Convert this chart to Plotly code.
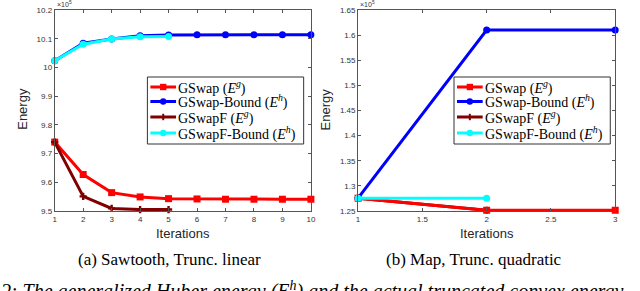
import plotly.graph_objects as go

# ---- data (energy values in units of 1e5) ----
iters_a = [1, 2, 3, 4, 5, 6, 7, 8, 9, 10]
gswap_a = [9.740, 9.627, 9.564, 9.549, 9.543, 9.542, 9.541, 9.541, 9.541, 9.541]
gswap_bound_a = [10.023, 10.084, 10.099, 10.110, 10.113, 10.114, 10.114, 10.114, 10.114, 10.114]
iters_a_f = [1, 2, 3, 4, 5]
gswapf_a = [9.740, 9.551, 9.509, 9.505, 9.505]
gswapf_bound_a = [10.023, 10.081, 10.099, 10.107, 10.108]

iters_b = [1, 2, 3]
gswap_b = [1.2755, 1.2515, 1.2515]
gswap_bound_b = [1.2755, 1.610, 1.610]
iters_b_f = [1, 2]
gswapf_b = [1.2755, 1.2515]
gswapf_bound_b = [1.2755, 1.2755]

yticks_a = [9.5, 9.6, 9.7, 9.8, 9.9, 10.0, 10.1, 10.2]
yticklabels_a = ["9.5", "9.6", "9.7", "9.8", "9.9", "10", "10.1", "10.2"]
xticks_a = [1, 2, 3, 4, 5, 6, 7, 8, 9, 10]
yticks_b = [1.25, 1.30, 1.35, 1.40, 1.45, 1.50, 1.55, 1.60, 1.65]
yticklabels_b = ["1.25", "1.3", "1.35", "1.4", "1.45", "1.5", "1.55", "1.6", "1.65"]
xticks_b = [1, 1.5, 2, 2.5, 3]
xticklabels_b = ["1", "1.5", "2", "2.5", "3"]

names = ["GSwap (<i>E</i><sup><i>g</i></sup>)",
         "GSwap-Bound (<i>E</i><sup><i>h</i></sup>)",
         "GSwapF (<i>E</i><sup><i>g</i></sup>)",
         "GSwapF-Bound (<i>E</i><sup><i>h</i></sup>)"]
colors = ["#ff0000", "#0000ff", "#800000", "#00ffff"]
symbols = ["square", "circle", "cross", "circle"]
msizes = [7, 7, 6, 7]

fig = go.Figure()

def add(x, y, i, xa, ya):
    fig.add_trace(go.Scatter(
        x=x, y=y, mode="lines+markers", name=names[i], showlegend=False,
        line=dict(color=colors[i], width=3),
        marker=dict(color=colors[i], symbol=symbols[i], size=msizes[i]),
        xaxis=xa, yaxis=ya, cliponaxis=False))

# panel a
add(iters_a, gswap_a, 0, "x", "y")
add(iters_a, gswap_bound_a, 1, "x", "y")
add(iters_a_f, gswapf_a, 2, "x", "y")
add(iters_a_f, gswapf_bound_a, 3, "x", "y")
# panel b (GSwapF drawn beneath GSwap)
add(iters_b_f, gswapf_b, 2, "x2", "y2")
add(iters_b, gswap_b, 0, "x2", "y2")
add(iters_b, gswap_bound_b, 1, "x2", "y2")
add(iters_b_f, gswapf_bound_b, 3, "x2", "y2")

axis_col = "#555555"
tick_font = dict(family="Liberation Sans", size=8, color="#333333")
common = dict(showgrid=False, zeroline=False, showline=True, linecolor=axis_col,
              linewidth=1, mirror="ticks", ticks="inside", ticklen=3,
              tickcolor=axis_col, tickfont=tick_font)

W, H = 640, 291
top, bot = 10, 80
def py2p(py):
    return (H - bot - py) / (H - top - bot)
def px2p(px):
    return px / W

fig.update_layout(
    width=W, height=H, margin=dict(l=0, r=0, t=top, b=bot),
    paper_bgcolor="white", plot_bgcolor="white", showlegend=False,
    xaxis=dict(domain=[53.3 / W, 312.3 / W], range=[1, 10], tickvals=xticks_a, **common),
    yaxis=dict(domain=[0, 1], range=[9.5, 10.2], tickvals=yticks_a,
               ticktext=yticklabels_a, anchor="x", **common),
    xaxis2=dict(domain=[360 / W, 620 / W], range=[1, 3], tickvals=xticks_b,
                ticktext=xticklabels_b, anchor="y2", **common),
    yaxis2=dict(domain=[0, 1], range=[1.25, 1.65], tickvals=yticks_b,
                ticktext=yticklabels_b, anchor="x2", **common),
)

ann = []
shapes = []

# ---- legend boxes (drawn as shapes + text) ----
leg_font = dict(family="Liberation Serif", size=14, color="black")
row_y = [87, 101.5, 117, 133]
for (bx0, bx1) in [(147, 305), (457, 615)]:
    shapes.append(dict(type="rect", xref="paper", yref="paper",
                       x0=px2p(bx0), x1=px2p(bx1), y0=py2p(144), y1=py2p(77),
                       line=dict(color="#333333", width=1), fillcolor="white", layer="above"))
    for i, ry in enumerate(row_y):
        lx0, lx1 = bx0 + 3, bx0 + 29
        mx = (lx0 + lx1) / 2
        shapes.append(dict(type="line", xref="paper", yref="paper",
                           x0=px2p(lx0), x1=px2p(lx1), y0=py2p(ry), y1=py2p(ry),
                           line=dict(color=colors[i], width=3), layer="above"))
        r = 3.2
        if symbols[i] == "square":
            shapes.append(dict(type="rect", xref="paper", yref="paper",
                               x0=px2p(mx - r), x1=px2p(mx + r), y0=py2p(ry + r), y1=py2p(ry - r),
                               line=dict(color=colors[i], width=0), fillcolor=colors[i], layer="above"))
        elif symbols[i] == "circle":
            shapes.append(dict(type="circle", xref="paper", yref="paper",
                               x0=px2p(mx - r), x1=px2p(mx + r), y0=py2p(ry + r), y1=py2p(ry - r),
                               line=dict(color=colors[i], width=0), fillcolor=colors[i], layer="above"))
        else:
            shapes.append(dict(type="line", xref="paper", yref="paper",
                               x0=px2p(mx), x1=px2p(mx), y0=py2p(ry + r), y1=py2p(ry - r),
                               line=dict(color=colors[i], width=2), layer="above"))
        ann.append(dict(text=names[i], x=px2p(bx0 + 29), y=py2p(ry), xref="paper", yref="paper",
                        showarrow=False, xanchor="left", yanchor="middle", font=leg_font))

label_font = dict(family="Liberation Sans", size=13, color="#262626")
for xc in [(53.3 + 312.3) / 2, (360 + 620) / 2]:
    ann.append(dict(text="Iterations", x=px2p(xc), y=py2p(233), xref="paper", yref="paper",
                    showarrow=False, xanchor="center", yanchor="middle", font=label_font))
for xc in [20, 327]:
    ann.append(dict(text="Energy", x=px2p(xc), y=py2p(109), xref="paper", yref="paper",
                    showarrow=False, textangle=-90, xanchor="center", yanchor="middle",
                    font=label_font))
for xl in [53.3, 360]:
    ann.append(dict(text="\u00d710<sup>5</sup>", x=px2p(xl), y=1.0, xref="paper", yref="paper",
                    showarrow=False, xanchor="left", yanchor="bottom",
                    font=dict(family="Liberation Sans", size=7, color="#333333")))
cap_font = dict(family="Liberation Serif", size=17, color="black")
ann.append(dict(text="(a) Sawtooth, Trunc. linear", x=px2p(169.5), y=py2p(259),
                xref="paper", yref="paper", showarrow=False, xanchor="center",
                yanchor="middle", font=cap_font))
ann.append(dict(text="(b) Map, Trunc. quadratic", x=px2p(477), y=py2p(259),
                xref="paper", yref="paper", showarrow=False, xanchor="center",
                yanchor="middle", font=cap_font))
ann.append(dict(text="2: <i>The generalized Huber energy (E<sup>h</sup>) and the actual truncated convex energy</i>",
                x=0, y=py2p(276), xref="paper", yref="paper", showarrow=False,
                xanchor="left", yanchor="top", xshift=-2,
                font=dict(family="Liberation Serif", size=20, color="black")))
fig.update_layout(annotations=ann, shapes=shapes)

fig.write_html("out.html", config={"displayModeBar": False},
               post_script="document.body.style.margin='0px';")
